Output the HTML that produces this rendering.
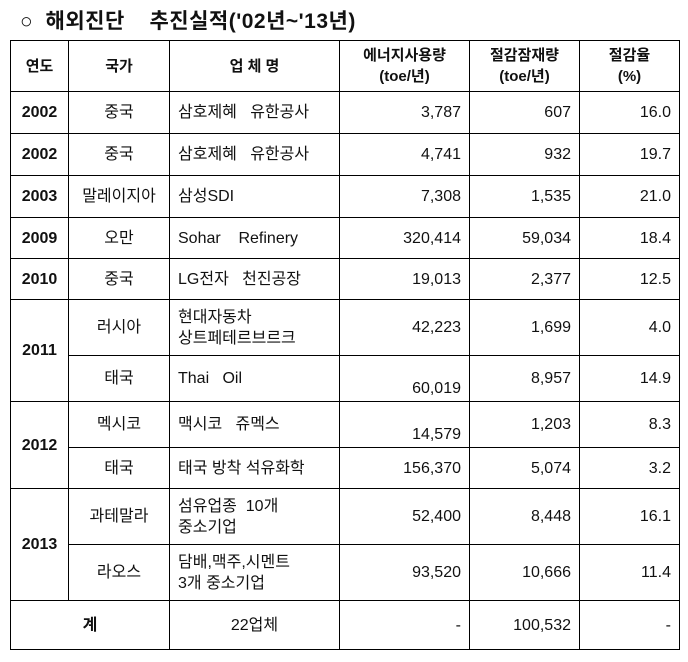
<!DOCTYPE html>
<html><head><meta charset="utf-8"><style>
body{margin:0;width:688px;height:662px;background:#fff;font-family:"Liberation Sans","Noto Sans CJK KR",sans-serif;color:#111;position:relative;overflow:hidden}
.title{position:absolute;left:20px;top:5px;font-size:21px;font-weight:bold;word-spacing:6px;letter-spacing:0.5px}
table{position:absolute;left:10px;top:40px;border-collapse:collapse;table-layout:fixed;font-size:16px}
td,th{border:1.5px solid #000;padding:0 8px;line-height:21px}
th{font-weight:bold;text-align:center;font-size:15px}
.y{font-weight:bold;text-align:center}
.c{text-align:center}
.r{text-align:right}
.b{vertical-align:bottom;padding-bottom:2px}
</style></head><body>
<div class="title">○ 해외진단&nbsp; 추진실적('02년~'13년)</div>
<table>
<colgroup><col style="width:58px"><col style="width:101px"><col style="width:170px"><col style="width:130px"><col style="width:110px"><col style="width:100px"></colgroup>
<tr style="height:51px"><th>연도</th><th>국가</th><th>업 체 명</th><th>에너지사용량<br>(toe/년)</th><th>절감잠재량<br>(toe/년)</th><th>절감율<br>(%)</th></tr>
<tr style="height:42px"><td class="y">2002</td><td class="c">중국</td><td>삼호제혜&nbsp;&nbsp;&nbsp;유한공사</td><td class="r">3,787</td><td class="r">607</td><td class="r">16.0</td></tr>
<tr style="height:42px"><td class="y">2002</td><td class="c">중국</td><td>삼호제혜&nbsp;&nbsp;&nbsp;유한공사</td><td class="r">4,741</td><td class="r">932</td><td class="r">19.7</td></tr>
<tr style="height:42px"><td class="y">2003</td><td class="c">말레이지아</td><td>삼성SDI</td><td class="r">7,308</td><td class="r">1,535</td><td class="r">21.0</td></tr>
<tr style="height:41px"><td class="y">2009</td><td class="c">오만</td><td>Sohar&nbsp;&nbsp;&nbsp;&nbsp;Refinery</td><td class="r">320,414</td><td class="r">59,034</td><td class="r">18.4</td></tr>
<tr style="height:41px"><td class="y">2010</td><td class="c">중국</td><td>LG전자&nbsp;&nbsp;&nbsp;천진공장</td><td class="r">19,013</td><td class="r">2,377</td><td class="r">12.5</td></tr>
<tr style="height:56px"><td class="y" rowspan="2">2011</td><td class="c">러시아</td><td>현대자동차<br>상트페테르브르크</td><td class="r">42,223</td><td class="r">1,699</td><td class="r">4.0</td></tr>
<tr style="height:46px"><td class="c">태국</td><td>Thai&nbsp;&nbsp;&nbsp;Oil</td><td class="r b">60,019</td><td class="r">8,957</td><td class="r">14.9</td></tr>
<tr style="height:46px"><td class="y" rowspan="2">2012</td><td class="c">멕시코</td><td>맥시코&nbsp;&nbsp;&nbsp;쥬멕스</td><td class="r b">14,579</td><td class="r">1,203</td><td class="r">8.3</td></tr>
<tr style="height:41px"><td class="c">태국</td><td>태국 방착 석유화학</td><td class="r">156,370</td><td class="r">5,074</td><td class="r">3.2</td></tr>
<tr style="height:56px"><td class="y" rowspan="2">2013</td><td class="c">과테말라</td><td>섬유업종&nbsp;&nbsp;10개<br>중소기업</td><td class="r">52,400</td><td class="r">8,448</td><td class="r">16.1</td></tr>
<tr style="height:56px"><td class="c">라오스</td><td>담배,맥주,시멘트<br>3개 중소기업</td><td class="r">93,520</td><td class="r">10,666</td><td class="r">11.4</td></tr>
<tr style="height:49px"><td colspan="2" class="y">계</td><td class="c">22업체</td><td class="r">-</td><td class="r">100,532</td><td class="r">-</td></tr>
</table>
</body></html>
